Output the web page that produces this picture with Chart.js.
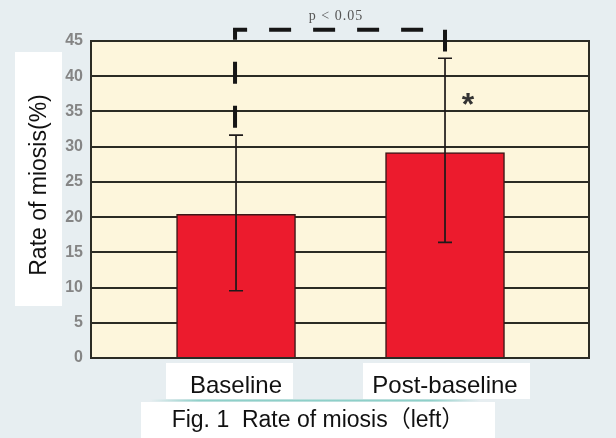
<!DOCTYPE html>
<html>
<head>
<meta charset="utf-8">
<script src="https://cdn.jsdelivr.net/npm/chart.js@4/dist/chart.umd.min.js"></script>
<style>
  html, body { margin: 0; padding: 0; background: #e7eef1; }
  #wrap { width: 616px; height: 438px; }
</style>
</head>
<body>
<div id="wrap"><canvas id="c" width="616" height="438"></canvas></div>
<script>
// ---- data ----
const categories = ['Baseline', 'Post-baseline'];
const meanValues = [20.4, 29.15];
const errLow = [9.55, 16.4];
const errHigh = [31.65, 42.55];
const yTicks = [0, 5, 10, 15, 20, 25, 30, 35, 40, 45];
const yTitle = 'Rate of miosis(%)';
const caption = 'Fig. 1  Rate of miosis\uFF08left\uFF09';
const pText = 'p < 0.05';
const sigMark = '*';

const FONT = '"Liberation Sans", Arial, "Noto Sans CJK SC", sans-serif';

const decor = {
  id: 'decor',
  beforeDraw(chart) {
    const ctx = chart.ctx, a = chart.chartArea;
    ctx.save();
    ctx.fillStyle = '#e7eef1';
    ctx.fillRect(0, 0, chart.width, chart.height);
    ctx.fillStyle = '#fdf6dc';
    ctx.fillRect(a.left, a.top, a.right - a.left, a.bottom - a.top);
    // white label boxes
    ctx.fillStyle = '#ffffff';
    ctx.fillRect(15, 52, 47, 254);          // y title box
    ctx.fillRect(166, 363, 127, 36);        // Baseline box
    ctx.fillRect(363, 363, 167, 36);        // Post-baseline box
    ctx.fillRect(141, 402, 354, 36);        // caption box
    const g = ctx.createLinearGradient(150, 0, 480, 0);
    g.addColorStop(0, 'rgba(120,200,190,0)');
    g.addColorStop(0.15, 'rgba(120,200,190,0.8)');
    g.addColorStop(0.85, 'rgba(120,200,190,0.8)');
    g.addColorStop(1, 'rgba(120,200,190,0)');
    ctx.fillStyle = g;
    ctx.fillRect(150, 399.5, 330, 2);
    ctx.restore();
  },
  afterDatasetsDraw(chart) {
    const ctx = chart.ctx, x = chart.scales.x, y = chart.scales.y, a = chart.chartArea;
    ctx.save();
    // right border of plot
    ctx.strokeStyle = '#2b2b24';
    ctx.lineWidth = 2;
    ctx.beginPath();
    ctx.moveTo(a.right, a.top - 1);
    ctx.lineTo(a.right, a.bottom + 1);
    ctx.stroke();
    // error bars
    ctx.strokeStyle = '#1e1a1a';
    ctx.lineWidth = 1.7;
    for (let i = 0; i < meanValues.length; i++) {
      const px = x.getPixelForValue(i);
      const yl = y.getPixelForValue(errLow[i]);
      const yh = y.getPixelForValue(errHigh[i]);
      ctx.beginPath();
      ctx.moveTo(px, yl); ctx.lineTo(px, yh);
      ctx.moveTo(px - 7, yl); ctx.lineTo(px + 7, yl);
      ctx.moveTo(px - 7, yh); ctx.lineTo(px + 7, yh);
      ctx.stroke();
    }
    ctx.restore();
  },
  afterDraw(chart) {
    const ctx = chart.ctx, x = chart.scales.x, y = chart.scales.y;
    ctx.save();
    // significance bracket
    const x0 = x.getPixelForValue(0) - 1, x1 = x.getPixelForValue(1);
    const yTop = y.getPixelForValue(46.6);
    ctx.strokeStyle = '#161616';
    ctx.lineWidth = 4;
    ctx.setLineDash([22, 22]);
    ctx.lineCap = 'butt';
    ctx.beginPath();
    ctx.moveTo(x0, y.getPixelForValue(32.7));
    ctx.lineTo(x0, yTop);
    ctx.lineTo(x1, yTop);
    ctx.lineTo(x1, y.getPixelForValue(43.5));
    ctx.stroke();
    ctx.setLineDash([]);
    // p text
    ctx.fillStyle = '#555';
    ctx.font = '14px "Liberation Serif", "Times New Roman", serif';
    ctx.letterSpacing = '1px';
    ctx.textAlign = 'center';
    ctx.textBaseline = 'middle';
    ctx.fillText(pText, 336, 16);
    ctx.letterSpacing = '0px';
    // star
    ctx.fillStyle = '#333';
    ctx.font = 'bold 32px ' + FONT;
    ctx.textBaseline = 'alphabetic';
    ctx.fillText(sigMark, x1 + 23, y.getPixelForValue(37.2) + 0.58 * 32);
    // y title
    ctx.fillStyle = '#111';
    ctx.font = '23px ' + FONT;
    ctx.translate(40, 185);
    ctx.rotate(-Math.PI / 2);
    ctx.textAlign = 'center';
    ctx.textBaseline = 'middle';
    ctx.fillText(yTitle, 0, 0);
    ctx.setTransform(1, 0, 0, 1, 0, 0);
    // caption
    ctx.font = '23px ' + FONT;
    ctx.fillText(caption, 318, 421);
    ctx.restore();
  }
};

new Chart(document.getElementById('c'), {
  type: 'bar',
  data: {
    datasets: [{
      data: meanValues.map((v, i) => ({ x: i, y: v })),
      backgroundColor: '#ec1b2d',
      borderColor: '#3c1818',
      borderWidth: 1.5,
      barThickness: 119
    }]
  },
  options: {
    responsive: false,
    animation: false,
    devicePixelRatio: 1,
    layout: { padding: { top: 41, right: 27, left: 0, bottom: 0 } },
    plugins: { legend: { display: false }, tooltip: { enabled: false } },
    scales: {
      x: {
        type: 'linear',
        offset: false,
        bounds: 'data',
        grace: 0,
        min: -0.694,
        max: 1.689,
        afterBuildTicks: s => { s.ticks = categories.map((c, i) => ({ value: i })); },
        afterFit: s => { s.height = 80; },
        ticks: {
          callback: v => categories[v] ?? '',
          font: { family: FONT, size: 24 },
          color: '#111',
          padding: 14,
          autoSkip: false,
          maxRotation: 0
        },
        grid: { display: false, drawTicks: false, offset: false },
        border: { display: false }
      },
      y: {
        min: 0,
        max: 45,
        afterBuildTicks: s => { s.ticks = yTicks.map(v => ({ value: v })); },
        afterFit: s => { s.width = 91; },
        ticks: {
          font: { family: FONT, size: 16, weight: 'bold' },
          color: '#858585',
          padding: 8
        },
        grid: { color: '#2b2b24', lineWidth: 2, drawTicks: false },
        border: { display: true, color: '#2b2b24', width: 2 }
      }
    }
  },
  plugins: [decor]
});
</script>
</body>
</html>
